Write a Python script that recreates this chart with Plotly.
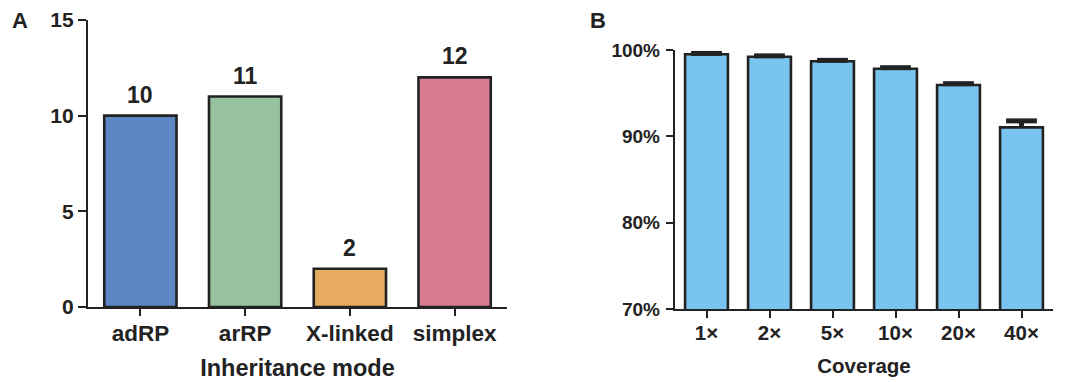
import plotly.graph_objects as go

# Panel A data
modes = ["adRP", "arRP", "X-linked", "simplex"]
counts = [10, 11, 2, 12]
mode_colors = ["#5B88C5", "#96C39D", "#E6AB5F", "#D97B91"]

# Panel B data
coverage = ["1×", "2×", "5×", "10×", "20×", "40×"]
pct = [99.5, 99.22, 98.7, 97.83, 95.95, 91.04]
pct_err = [0.1, 0.1, 0.1, 0.12, 0.15, 0.75]

FONT = "Liberation Sans"
DARK = "#222222"
OFF = 8                      # page body margin
W, H = 1078 - OFF, 382 - OFF


def fx(px):
    return (px - OFF) / W


def fy(py):
    return 1 - (py - OFF) / H


fig = go.Figure()

fig.add_trace(go.Bar(
    x=modes, y=counts, width=0.69,
    marker=dict(color=mode_colors, line=dict(color=DARK, width=2.6)),
    xaxis="x", yaxis="y", showlegend=False, hoverinfo="skip"))

fig.add_trace(go.Bar(
    x=coverage, y=pct, width=0.68,
    marker=dict(color="#79C5F0", line=dict(color=DARK, width=2.6)),
    xaxis="x2", yaxis="y2", showlegend=False, hoverinfo="skip"))

cap_y = [v + e for v, e in zip(pct, pct_err)]
fig.add_trace(go.Scatter(
    x=coverage, y=cap_y, mode="markers",
    marker=dict(symbol="line-ew", size=22, line=dict(color=DARK, width=5)),
    error_y=dict(type="data", symmetric=False, array=[0] * len(pct),
                 arrayminus=pct_err, width=0, thickness=5, color=DARK),
    xaxis="x2", yaxis="y2", showlegend=False, hoverinfo="skip"))

annotations = []
for m, c in zip(modes, counts):
    annotations.append(dict(x=m, y=c, xref="x", yref="y", text=str(c),
                            showarrow=False, yanchor="bottom", yshift=6,
                            font=dict(family=FONT, size=23, color=DARK, weight="bold")))
annotations += [
    dict(x=fx(20), y=fy(20), xref="paper", yref="paper", text="A",
         showarrow=False, xanchor="center", yanchor="middle",
         font=dict(family=FONT, size=22, color=DARK, weight="bold")),
    dict(x=fx(598), y=fy(20), xref="paper", yref="paper", text="B",
         showarrow=False, xanchor="center", yanchor="middle",
         font=dict(family=FONT, size=22, color=DARK, weight="bold")),
]

axis_common = dict(showline=True, linewidth=2.4, linecolor=DARK, ticks="outside",
                   tickwidth=2.4, tickcolor=DARK, showgrid=False, zeroline=False,
                   automargin=False)

fig.update_layout(
    template="none",
    width=W, height=H, autosize=False,
    margin=dict(l=0, r=0, t=0, b=0, pad=0),
    paper_bgcolor="white", plot_bgcolor="white",
    font=dict(family=FONT, color=DARK),
    annotations=annotations,
    xaxis=dict(domain=[fx(88), fx(507)], anchor="y", range=[-0.5, 3.5],
               ticklen=7, ticklabelstandoff=-2, tickfont=dict(size=22.5, weight="bold"),
               title=dict(text="Inheritance mode", standoff=14,
                          font=dict(size=23.5, weight="bold")),
               **axis_common),
    yaxis=dict(domain=[fy(307), fy(20)], anchor="x", range=[0, 15],
               tickvals=[0, 5, 10, 15], ticklen=8,
               tickfont=dict(size=21, weight="bold"), **axis_common),
    xaxis2=dict(domain=[fx(675), fx(1053)], anchor="y2", range=[-0.5, 5.5],
                ticklen=7, ticklabelstandoff=-3, tickfont=dict(size=20.5, weight="bold"),
                title=dict(text="Coverage", standoff=16,
                           font=dict(size=20.5, weight="bold")),
                **axis_common),
    yaxis2=dict(domain=[fy(309), fy(50)], anchor="x2", range=[70, 100],
                tickvals=[70, 80, 90, 100], ticktext=["70%", "80%", "90%", "100%"],
                ticklen=7, ticklabelstandoff=2, tickfont=dict(size=19, weight="bold"),
                **axis_common),
)

fig.write_html("out.html")
